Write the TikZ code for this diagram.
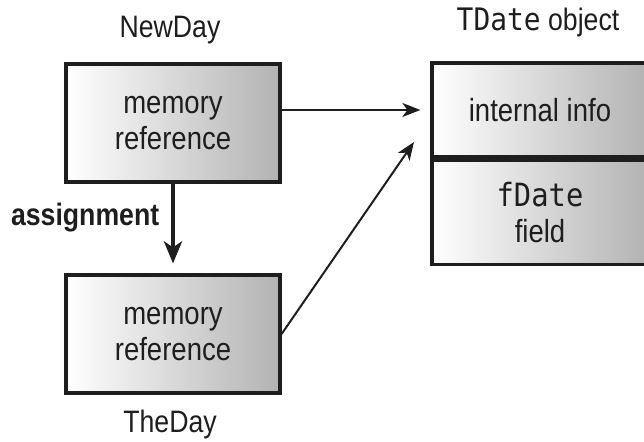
\documentclass[tikz,border=0pt]{standalone}
\usepackage{fontspec}
\setmainfont{Liberation Sans}[FakeStretch=0.86]
\setmonofont{DejaVu Sans Mono}[FakeStretch=0.9]
\usepackage{tikz}
\usetikzlibrary{arrows.meta, positioning, calc}
\usepackage{xcolor}
\definecolor{tinta}{RGB}{30,30,30}
\tikzset{
  refbox/.style={rectangle, draw=tinta, line width=1.6pt, left color=white,
                 right color=black!30, minimum width=107pt, minimum height=59pt,
                 align=center, font=\fontsize{16}{18}\selectfont, text=tinta},
  objbox/.style={refbox, minimum width=108pt},
  etiqueta/.style={font=\fontsize{15.5}{18}\selectfont, text=tinta},
  puntero/.style={-{Stealth[length=9pt, width=7pt, inset=2.5pt]}, line width=1pt, tinta},
  asigna/.style={-{Stealth[length=11pt, width=9pt, inset=3pt]}, line width=2pt, tinta}
}
\begin{document}
\begin{tikzpicture}[x=0.5pt, y=-0.5pt]
    \clip (0,0) rectangle (644,442);
    % variables a la izquierda
    \node[refbox] (nueva) at (173,123) {memory\\reference};
    \node[refbox] (vieja) at (173,334) {memory\\reference};
    \node[etiqueta] (lnueva) at (170,30) {NewDay};
    \node[etiqueta] (lvieja) at (170,424) {TheDay};
    \node[etiqueta, font=\fontsize{15.5}{18}\selectfont\bfseries, anchor=west] (lasig) at (4,218) {assignment};
    % objeto a la derecha
    \node[objbox, minimum height=47pt] (info) at (540,110) {internal info};
    \node[objbox, minimum height=52pt, below=0pt of info] (campo) {\texttt{fDate}\\field};
    \node[etiqueta] (lobj) at (538,22) {\texttt{TDate} object};
    \coordinate (punta) at (414,142);
    \draw[asigna, shorten >=5pt] (nueva) -- (vieja);
    \draw[puntero, shorten >=5pt] (nueva.east |- info.west) -- (info.west);
    \draw[puntero] (vieja.east) -- (punta);
  \end{tikzpicture}
\end{document}
